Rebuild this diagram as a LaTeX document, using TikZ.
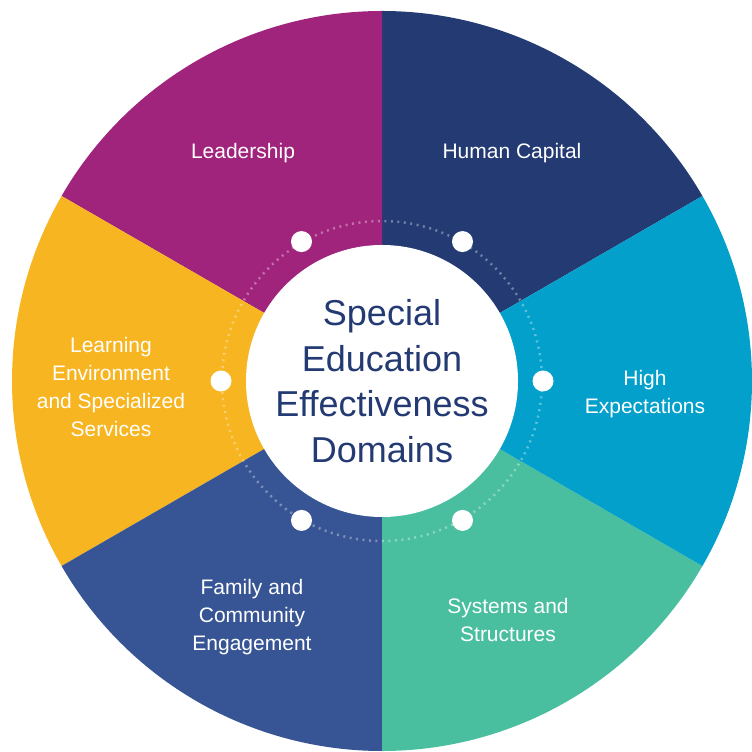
\documentclass[tikz,border=0pt]{standalone}
\usepackage{fontspec}
\setmainfont{Liberation Sans}
\usetikzlibrary{calc}
\definecolor{cLead}{HTML}{A0237C}
\definecolor{cHuman}{HTML}{233A73}
\definecolor{cHigh}{HTML}{03A0CB}
\definecolor{cSys}{HTML}{49BFA0}
\definecolor{cFam}{HTML}{375594}
\definecolor{cLearn}{HTML}{F7B521}
\definecolor{cTitle}{HTML}{233A73}
\tikzset{
  lbl/.style={text=white, align=center, font=\fontsize{21}{28}\selectfont, inner sep=0pt},
  ttl/.style={text=cTitle, align=center, font=\fontsize{36}{45.5}\selectfont, inner sep=0pt},
  dot/.style={circle, fill=white, minimum size=21pt, inner sep=0pt},
}
\begin{document}
\begin{tikzpicture}[x=1pt,y=1pt]
\useasboundingbox (0,0) rectangle (752,752);
\begin{scope}
\clip (0,0) rectangle (752,752);
\coordinate (c) at (382,371);
\foreach \a/\col in {30/cHuman, 90/cLead, 150/cLearn, 210/cFam, 270/cSys, 330/cHigh}{
  \fill[\col] (c) -- ++(\a:370) arc[start angle=\a, end angle=\a+60, radius=370] -- cycle;
}
\draw[white, opacity=0.35, line width=2.5pt, dash pattern=on 2pt off 4.5pt] (c) circle[radius=160];
\fill[white] (c) circle[radius=136];
\foreach \a/\n in {0/d0, 60/d60, 120/d120, 180/d180, 240/d240, 300/d300}{
  \node[dot] (\n) at ($(c)+(\a:161)$) {};
}
\end{scope}
\node[ttl] (title) at (382,371) {Special\\Education\\Effectiveness\\Domains};
\node[lbl] (lead) at (243,599) {Leadership};
\node[lbl] (human) at (512,599) {Human Capital};
\node[lbl] (high) at (645,358) {High\\Expectations};
\node[lbl] (sys) at (508,132) {Systems and\\Structures};
\node[lbl] (fam) at (252,135) {Family and\\Community\\Engagement};
\node[lbl] (learn) at (111,365) {Learning\\Environment\\and Specialized\\Services};
\end{tikzpicture}
\end{document}
